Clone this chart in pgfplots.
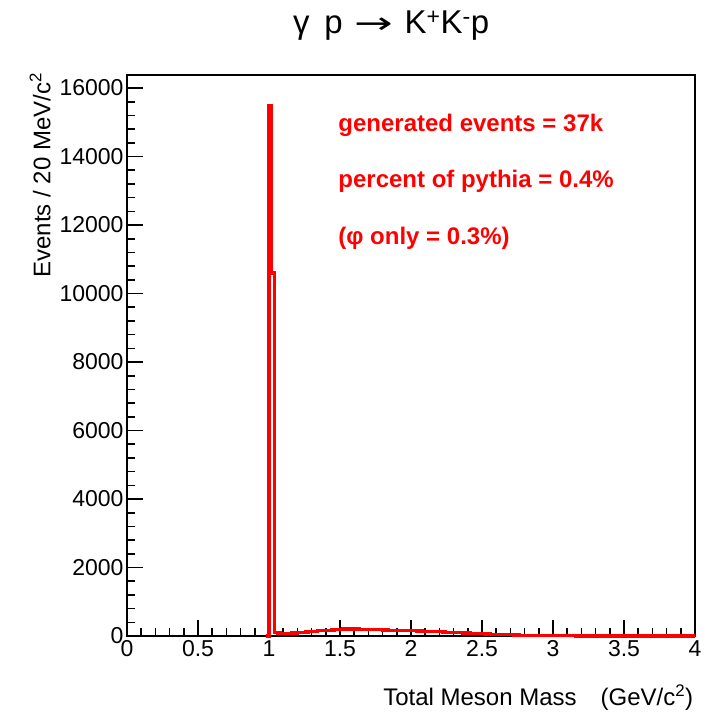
\documentclass[border=0pt]{standalone}
\usepackage{pgfplots}
\pgfplotsset{compat=1.18}
\usepackage{fontspec}
\setmainfont{Liberation Sans}
\newfontfamily\dejavu{DejaVu Sans}
\begin{document}
\begin{tikzpicture}
\begin{axis}[
  scale only axis, width=568pt, height=561pt,
  at={(0,0)}, anchor=south west,
  xmin=0, xmax=4, ymin=0, ymax=16380,
  xtick={0,0.5,...,4}, ytick={0,2000,...,16000},
  minor x tick num=4, minor y tick num=4,
  xtick pos=bottom, ytick pos=left, tick align=inside,
  major tick length=16pt, minor tick length=8pt,
  every tick/.style={black, line width=1.6pt},
  axis line style={line width=2.4pt},
  scaled y ticks=false,
  /pgf/number format/assume math mode=true,
  /pgf/number format/1000 sep={},
  xticklabel style={font=\fontsize{23}{26}\selectfont, yshift=-1pt},
  yticklabel style={font=\fontsize{23}{26}\selectfont, xshift=0pt},
  xticklabel={\pgfmathprintnumber[fixed]{\tick}},
  xlabel={Total Meson Mass\quad(GeV/c\textsuperscript{2})},
  xlabel style={font=\fontsize{24}{27}\selectfont, at={(axis description cs:1.003,-0.109)}, anchor=east},
  ylabel={Events / 20 MeV/c\textsuperscript{2}},
  ylabel style={font=\fontsize{24}{27}\selectfont, at={(axis description cs:-0.153,1.01)}, anchor=east, rotate=0},
  title={γ\hspace{0.45em}p\hspace{0.35em}\scalebox{1.4}[0.9]{\dejavu\mdseries →}\hspace{0.35em}K\textsuperscript{+}K\textsuperscript{-}p},
  title style={font=\fontsize{33}{36}\selectfont, at={(axis description cs:0.465,1.077)}, anchor=center},
  clip=false,
]
\addplot[red, line width=3.2pt, const plot mark left] coordinates {
(0.98,0) (1.00,15500) (1.02,10600) (1.04,110) (1.06,85) (1.08,75) (1.10,70) (1.12,75) (1.14,80) (1.16,85) (1.18,90)
(1.20,100) (1.22,105) (1.24,110) (1.26,115) (1.28,125) (1.30,135) (1.32,140) (1.34,150) (1.36,155) (1.38,160)
(1.40,165) (1.42,170) (1.44,175) (1.46,180) (1.48,190) (1.50,200) (1.52,210) (1.54,205) (1.56,210) (1.58,205)
(1.60,200) (1.62,205) (1.64,200) (1.66,195) (1.68,200) (1.70,190) (1.72,195) (1.74,185) (1.76,180) (1.78,185)
(1.80,175) (1.82,175) (1.84,170) (1.86,170) (1.88,165) (1.90,165) (1.92,160) (1.94,160) (1.96,155) (1.98,150)
(2.00,155) (2.02,150) (2.04,145) (2.06,145) (2.08,140) (2.10,135) (2.12,135) (2.14,130) (2.16,125) (2.18,125)
(2.20,120) (2.22,115) (2.24,110) (2.26,110) (2.28,105) (2.30,100) (2.32,95) (2.34,95) (2.36,90) (2.38,85)
(2.40,85) (2.42,80) (2.44,75) (2.46,75) (2.48,70) (2.50,65) (2.52,60) (2.54,60) (2.56,55) (2.58,50)
(2.60,50) (2.62,45) (2.64,40) (2.66,40) (2.68,35) (2.70,35) (2.72,30) (2.74,30) (2.76,25) (2.78,25)
(2.80,20) (2.82,20) (2.84,18) (2.86,16) (2.88,15) (2.90,13) (2.92,12) (2.94,10) (2.96,9) (2.98,8)
(3.00,7) (3.02,6) (3.04,5) (3.06,5) (3.08,4) (3.10,4) (3.12,3) (3.14,3) (3.16,2) (3.18,2)
(3.20,2) (3.22,1) (3.24,1) (3.26,1) (3.28,1) (3.30,0) (4.00,0)
};
\node[red, anchor=west, font=\bfseries\fontsize{24}{27}\selectfont] at (axis description cs:0.366,0.911) {generated events = 37k};
\node[red, anchor=west, font=\bfseries\fontsize{24}{27}\selectfont] at (axis description cs:0.366,0.811) {percent of pythia = 0.4\%};
\node[red, anchor=west, font=\bfseries\fontsize{24}{27}\selectfont] at (axis description cs:0.366,0.7095) {(φ only = 0.3\%)};
\end{axis}
\useasboundingbox (-127pt,-81pt) rectangle (588pt,636pt);
\end{tikzpicture}
\end{document}
